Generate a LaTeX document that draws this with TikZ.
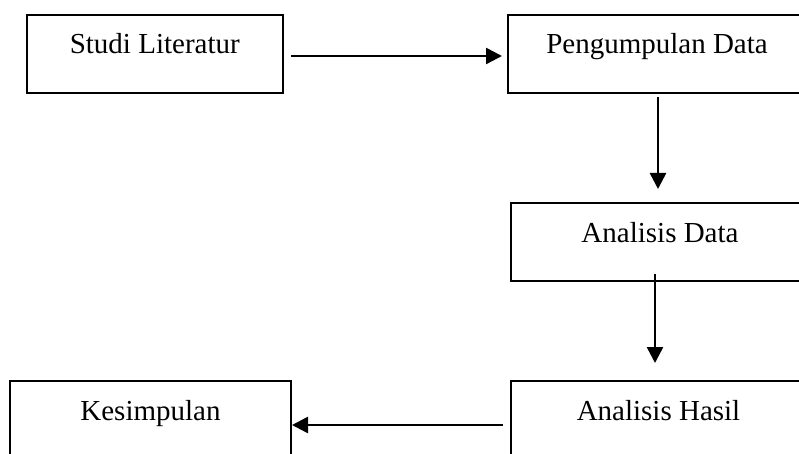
\documentclass[tikz,border=0pt]{standalone}
\usepackage{fontspec}
\setmainfont{Liberation Serif}
\usetikzlibrary{arrows.meta}
\begin{document}
\begin{tikzpicture}[x=1pt,y=-1pt,
  box/.style={draw, line width=2pt, rectangle, anchor=north west, outer sep=0pt,
    minimum height=78pt, inner sep=0pt, text height=10pt, text depth=10pt,
    font=\fontsize{29}{34}\selectfont},
  arr/.style={line width=2.6pt, -{Triangle[length=16pt,width=16pt]}}]
\useasboundingbox (0,0) rectangle (799,454);
\node[box, minimum width=256.5pt] (sl) at (26.5,15) {Studi Literatur};
\node[box, minimum width=298pt] (pd) at (508,15) {Pengumpulan Data};
\node[box, minimum width=298pt] (ad) at (511,203) {Analisis Data};
\node[box, minimum width=295pt] (ah) at (511,381) {Analisis Hasil};
\node[box, minimum width=281pt] (ks) at (10,381) {Kesimpulan};
\draw[arr, shorten <=8pt, shorten >=6pt] ([yshift=-2pt]sl.east) -- ([yshift=-2pt]pd.west);
\draw[arr, shorten <=4pt, shorten >=14pt] ([xshift=1pt]pd.south) -- ([xshift=1pt]pd.south |- ad.north);
\draw[arr, shorten <=-7pt, shorten >=18pt] ([xshift=-5pt]ad.south) -- ([xshift=-5pt]ad.south |- ah.north);
\draw[arr, shorten <=8pt, shorten >=1pt] ([yshift=-5pt]ah.west) -- ([yshift=-5pt]ks.east);
\end{tikzpicture}
\end{document}
